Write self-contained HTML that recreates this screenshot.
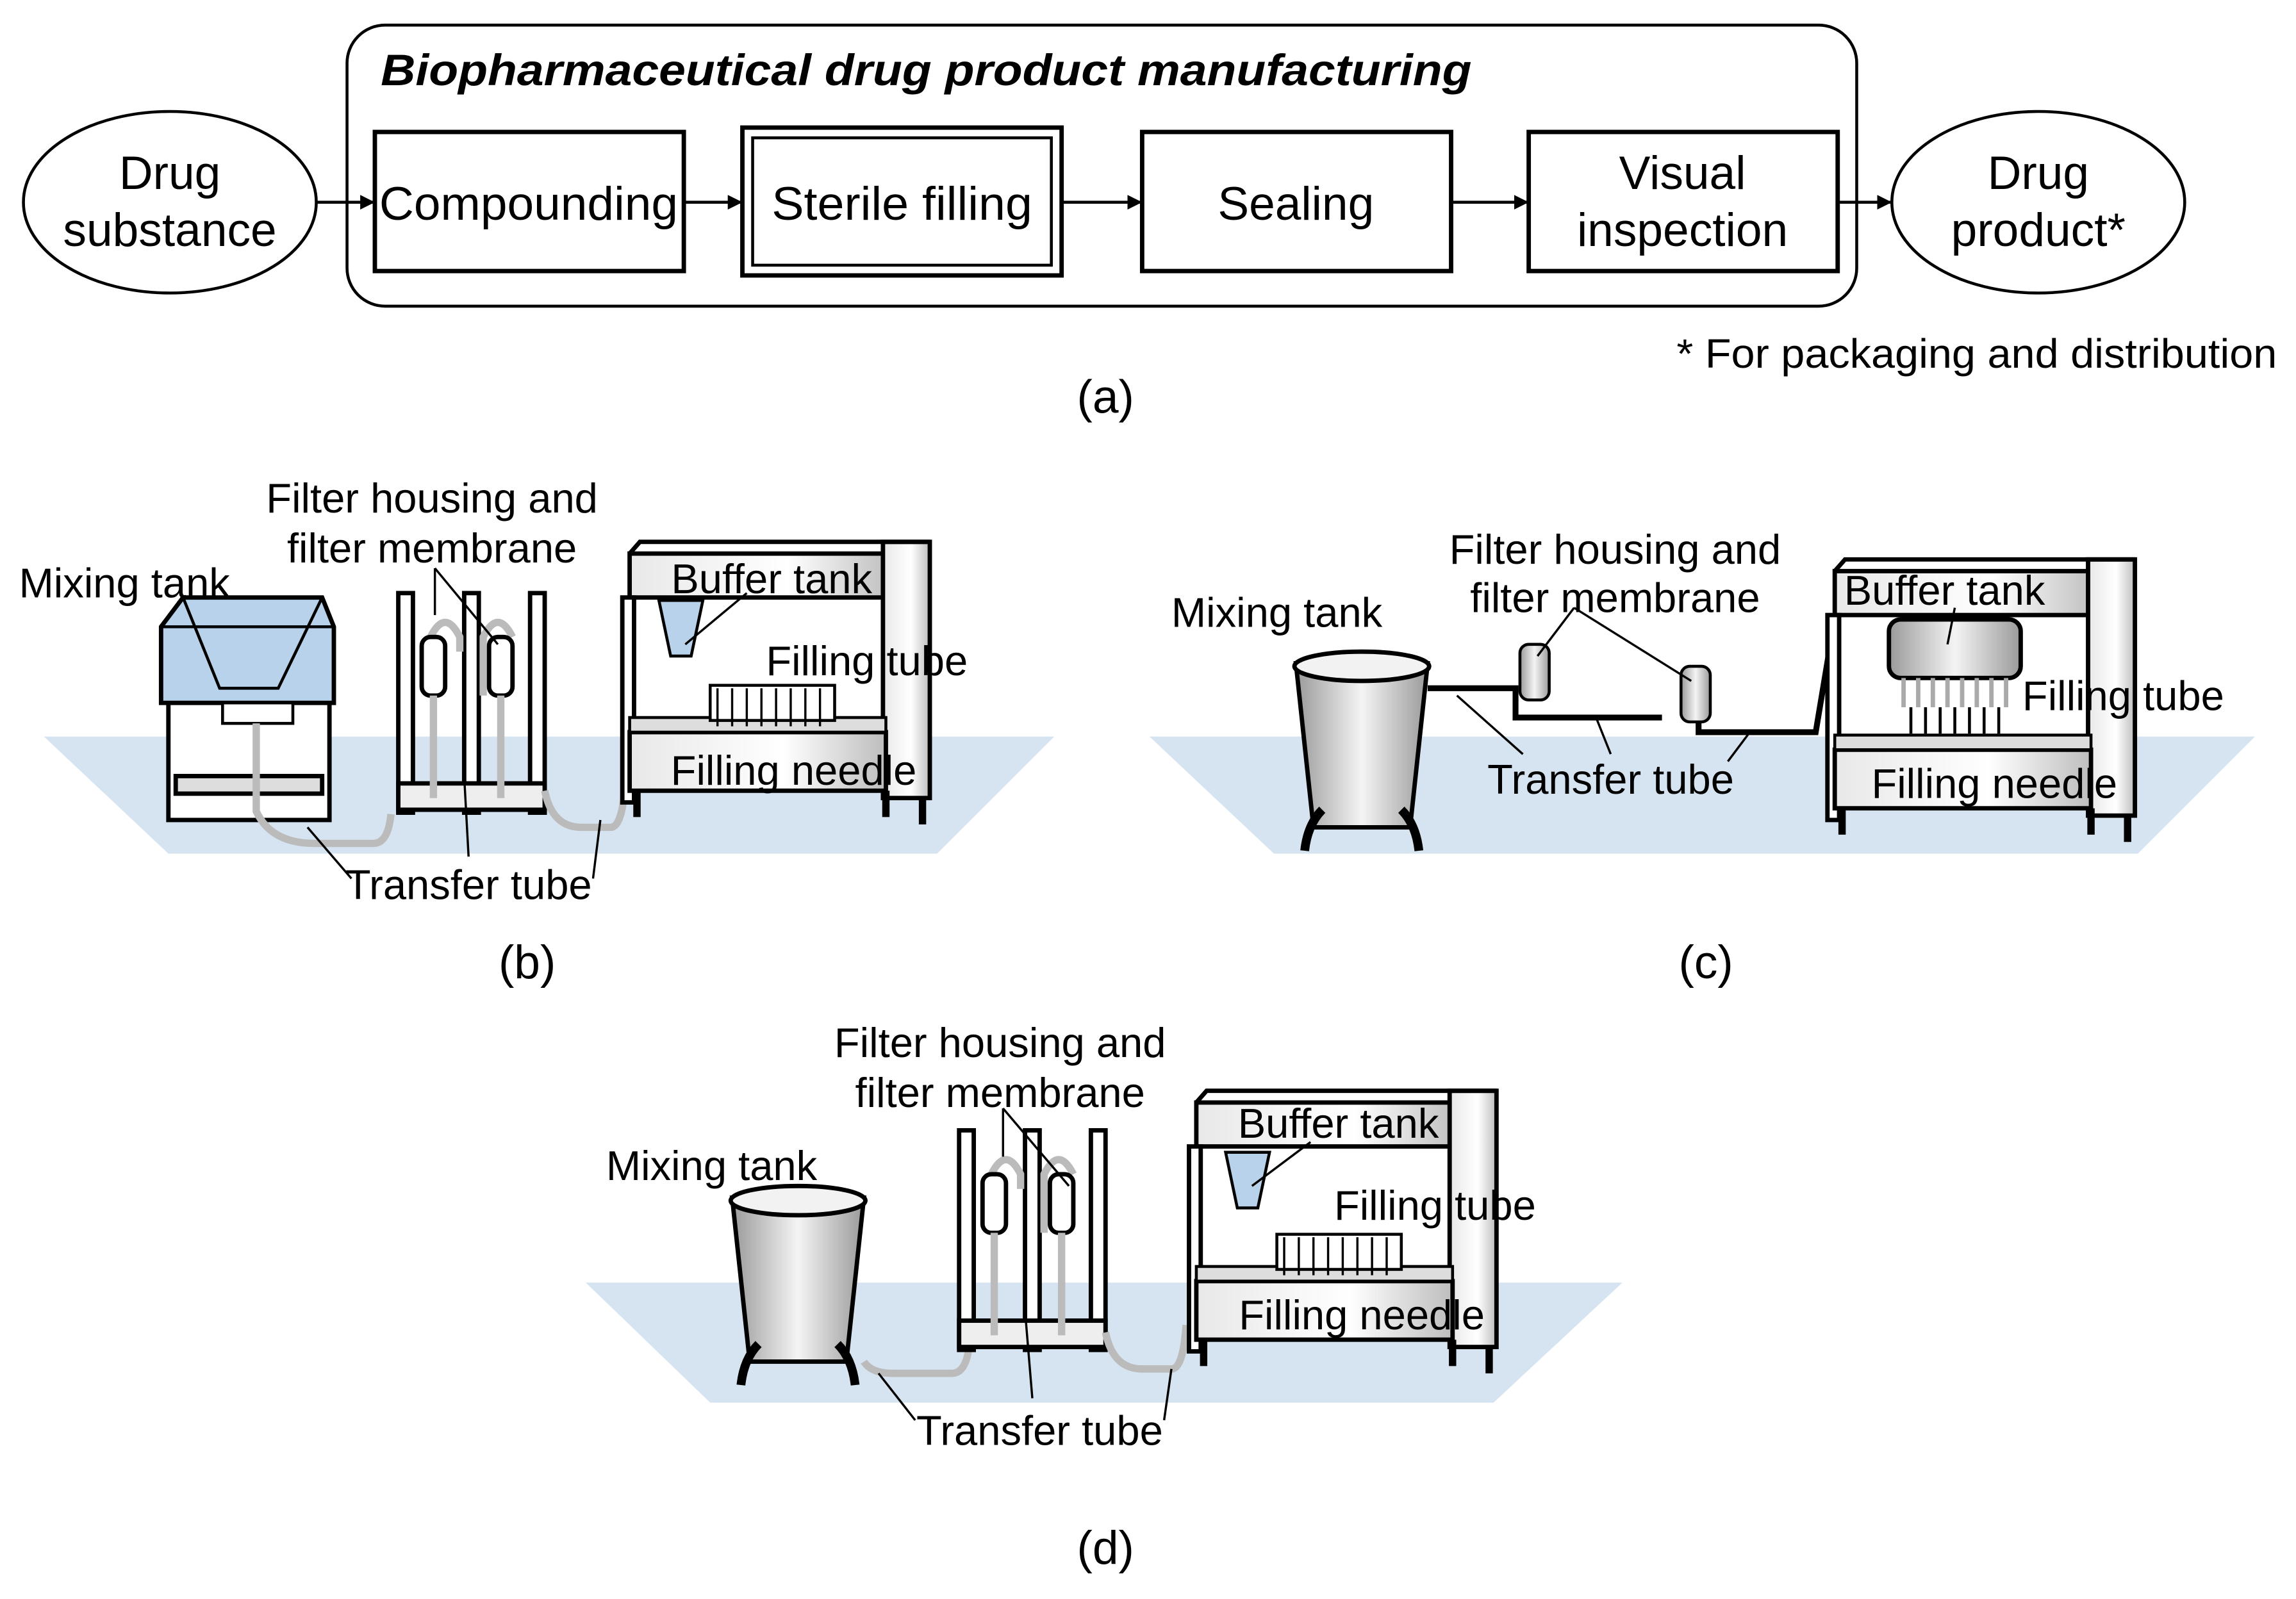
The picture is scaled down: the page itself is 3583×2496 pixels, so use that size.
<!DOCTYPE html>
<html><head><meta charset="utf-8"><style>
html,body{margin:0;padding:0;background:#fff;}
svg{display:block;}
text{font-family:"Liberation Sans",Arial,sans-serif;fill:#000;}
</style></head><body>
<svg width="3583" height="2496" viewBox="0 0 1568 1092" xmlns="http://www.w3.org/2000/svg">
<defs>
<marker id="ah" markerWidth="10" markerHeight="10" refX="9" refY="5" orient="auto" markerUnits="userSpaceOnUse"><path d="M0,0 L10,5 L0,10 z" fill="#000"/></marker>
<linearGradient id="mg" x1="0" x2="1"><stop offset="0" stop-color="#9a9a9a"/><stop offset="0.5" stop-color="#f4f4f4"/><stop offset="1" stop-color="#9a9a9a"/></linearGradient>
<linearGradient id="bg" x1="0" x2="1"><stop offset="0" stop-color="#e8e8e8"/><stop offset="0.6" stop-color="#ffffff"/><stop offset="1" stop-color="#bdbdbd"/></linearGradient>
<g id="rack">
 <rect x="0" y="0" width="10" height="150" fill="#fff" stroke="#000" stroke-width="3"/>
 <rect x="45" y="0" width="10" height="150" fill="#fff" stroke="#000" stroke-width="3"/>
 <rect x="90" y="0" width="10" height="150" fill="#fff" stroke="#000" stroke-width="3"/>
 <rect x="0" y="130" width="100" height="18" fill="#eee" stroke="#000" stroke-width="3"/>
 <path d="M22,70 v-40 q10,-20 20,0 v10 M58,70 v-40 q10,-20 20,0" fill="none" stroke="#bbb" stroke-width="5"/>
 <rect x="16" y="30" width="16" height="40" rx="6" fill="#fff" stroke="#000" stroke-width="3"/>
 <rect x="62" y="30" width="16" height="40" rx="6" fill="#fff" stroke="#000" stroke-width="3"/>
 <path d="M24,70 v70 M70,70 v70" stroke="#bbb" stroke-width="5"/>
</g>
<g id="filler">
 <rect x="5" y="8" width="180" height="30" fill="url(#bg)" stroke="#000" stroke-width="3"/>
 <rect x="178" y="0" width="32" height="175" fill="url(#bg)" stroke="#000" stroke-width="3"/>
 <path d="M5,8 L12,0 L210,0" fill="none" stroke="#000" stroke-width="3"/>
 <rect x="0" y="38" width="8" height="140" fill="#fff" stroke="#000" stroke-width="3"/>
 <rect x="5" y="130" width="175" height="40" fill="url(#bg)" stroke="#000" stroke-width="3"/>
 <rect x="5" y="120" width="175" height="10" fill="#ddd" stroke="#000" stroke-width="2"/>
 <path d="M10,170 v18 M180,170 v18 M205,175 v18" stroke="#000" stroke-width="5"/>
</g>
<g id="bucket">
 <path d="M0,8 L90,8 L78,120 L12,120 Z" fill="url(#mg)" stroke="#000" stroke-width="3"/>
 <ellipse cx="45" cy="10" rx="46" ry="10" fill="#f2f2f2" stroke="#000" stroke-width="3"/>
 <path d="M18,108 q-10,10 -12,28 M72,108 q10,10 12,28" fill="none" stroke="#000" stroke-width="6"/>
</g>
</defs>

<!-- (a) -->
<rect x="237" y="17" width="1031" height="192" rx="26" fill="none" stroke="#000" stroke-width="2"/>
<text x="260" y="58" font-size="30" font-weight="bold" font-style="italic" textLength="745" lengthAdjust="spacingAndGlyphs">Biopharmaceutical drug product manufacturing</text>
<ellipse cx="116" cy="138" rx="100" ry="62" fill="none" stroke="#000" stroke-width="2"/>
<text x="116" y="129" font-size="32" text-anchor="middle">Drug</text>
<text x="116" y="168" font-size="32" text-anchor="middle">substance</text>
<rect x="256" y="90" width="211" height="95" fill="none" stroke="#000" stroke-width="3"/>
<text x="361" y="150" font-size="32" text-anchor="middle" textLength="204" lengthAdjust="spacingAndGlyphs">Compounding</text>
<rect x="507" y="87" width="218" height="101" fill="none" stroke="#000" stroke-width="3"/>
<rect x="514" y="94" width="204" height="87" fill="none" stroke="#000" stroke-width="2"/>
<text x="616" y="150" font-size="32" text-anchor="middle" textLength="178" lengthAdjust="spacingAndGlyphs">Sterile filling</text>
<rect x="780" y="90" width="211" height="95" fill="none" stroke="#000" stroke-width="3"/>
<text x="885" y="150" font-size="32" text-anchor="middle">Sealing</text>
<rect x="1044" y="90" width="211" height="95" fill="none" stroke="#000" stroke-width="3"/>
<text x="1149" y="129" font-size="32" text-anchor="middle">Visual</text>
<text x="1149" y="168" font-size="32" text-anchor="middle">inspection</text>
<ellipse cx="1392" cy="138" rx="100" ry="62" fill="none" stroke="#000" stroke-width="2"/>
<text x="1392" y="129" font-size="32" text-anchor="middle">Drug</text>
<text x="1392" y="168" font-size="32" text-anchor="middle">product*</text>
<g stroke="#000" stroke-width="2" marker-end="url(#ah)">
<line x1="216" y1="138" x2="255" y2="138"/>
<line x1="467" y1="138" x2="506" y2="138"/>
<line x1="725" y1="138" x2="779" y2="138"/>
<line x1="991" y1="138" x2="1043" y2="138"/>
<line x1="1255" y1="138" x2="1291" y2="138"/>
</g>
<text x="1145" y="251" font-size="28" textLength="410" lengthAdjust="spacingAndGlyphs">* For packaging and distribution</text>
<text x="755" y="282" font-size="32" text-anchor="middle">(a)</text>

<!-- (b) -->
<polygon points="30,503 720,503 640,583 115,583" fill="#d6e4f1"/>
<rect x="115" y="440" width="110" height="120" fill="#fff" stroke="#000" stroke-width="3"/>
<path d="M110,428 L125,408 L220,408 L228,428 L228,480 L110,480 Z" fill="#b7d2ea" stroke="#000" stroke-width="3"/>
<path d="M125,408 L150,470 L190,470 L220,408 M110,428 L228,428" fill="none" stroke="#000" stroke-width="2"/>
<rect x="152" y="480" width="48" height="14" fill="#fff" stroke="#000" stroke-width="2"/>
<rect x="120" y="530" width="100" height="12" fill="#ddd" stroke="#000" stroke-width="3"/>
<path d="M175,494 v60 q10,22 40,22 h40 q10,0 12,-20" fill="none" stroke="#bbb" stroke-width="5"/>
<use href="#rack" x="272" y="405"/>
<path d="M372,540 q5,25 25,25 h20 q8,0 10,-30" fill="none" stroke="#bbb" stroke-width="5"/>
<use href="#filler" x="425" y="370"/>
<path d="M450,410 h30 l-8,38 h-14 z" fill="#b7d2ea" stroke="#000" stroke-width="2"/>
<rect x="485" y="468" width="85" height="24" fill="#fff" stroke="#000" stroke-width="2"/>
<path d="M490,470 v26 M500,470 v26 M510,470 v26 M520,470 v26 M530,470 v26 M540,470 v26 M550,470 v26 M560,470 v26" stroke="#000" stroke-width="1.5"/>
<g stroke="#000" stroke-width="1.5">
<line x1="297" y1="388" x2="297" y2="420"/><line x1="297" y1="388" x2="340" y2="440"/>
<line x1="210" y1="565" x2="240" y2="600"/><line x1="317" y1="530" x2="320" y2="585"/><line x1="410" y1="560" x2="405" y2="600"/>
<line x1="510" y1="405" x2="468" y2="440"/>
</g>
<text x="295" y="350" font-size="28.5" text-anchor="middle">Filter housing and</text>
<text x="295" y="384" font-size="28.5" text-anchor="middle">filter membrane</text>
<text x="85" y="408" font-size="28.5" text-anchor="middle">Mixing tank</text>
<text x="527" y="405" font-size="28.5" text-anchor="middle">Buffer tank</text>
<text x="592" y="461" font-size="28.5" text-anchor="middle">Filling tube</text>
<text x="542" y="536" font-size="28.5" text-anchor="middle">Filling needle</text>
<text x="320" y="614" font-size="28.5" text-anchor="middle">Transfer tube</text>
<text x="360" y="668" font-size="32" text-anchor="middle">(b)</text>

<!-- (c) -->
<polygon points="785,503 1540,503 1460,583 870,583" fill="#d6e4f1"/>
<use href="#bucket" x="885" y="445"/>
<path d="M975,470 h60 v20 h20 h80 M1160,485 v15 h80 l10,-60" fill="none" stroke="#000" stroke-width="4"/>
<rect x="1038" y="440" width="20" height="38" rx="6" fill="url(#mg)" stroke="#000" stroke-width="2"/>
<rect x="1148" y="455" width="20" height="38" rx="6" fill="url(#mg)" stroke="#000" stroke-width="2"/>
<use href="#filler" x="1248" y="382"/>
<rect x="1290" y="423" width="90" height="40" rx="8" fill="url(#mg)" stroke="#000" stroke-width="3"/>
<path d="M1300,463 v20 M1310,463 v20 M1320,463 v20 M1330,463 v20 M1340,463 v20 M1350,463 v20 M1360,463 v20 M1370,463 v20" stroke="#aaa" stroke-width="3"/>
<path d="M1305,483 v18 M1315,483 v18 M1325,483 v18 M1335,483 v18 M1345,483 v18 M1355,483 v18 M1365,483 v18" stroke="#000" stroke-width="2"/>
<g stroke="#000" stroke-width="1.5">
<line x1="1075" y1="415" x2="1050" y2="448"/><line x1="1075" y1="415" x2="1155" y2="465"/>
<line x1="1040" y1="515" x2="995" y2="475"/><line x1="1100" y1="515" x2="1090" y2="490"/><line x1="1180" y1="520" x2="1195" y2="500"/>
<line x1="1335" y1="415" x2="1330" y2="440"/>
</g>
<text x="1103" y="385" font-size="28.5" text-anchor="middle">Filter housing and</text>
<text x="1103" y="418" font-size="28.5" text-anchor="middle">filter membrane</text>
<text x="872" y="428" font-size="28.5" text-anchor="middle">Mixing tank</text>
<text x="1328" y="413" font-size="28.5" text-anchor="middle">Buffer tank</text>
<text x="1450" y="485" font-size="28.5" text-anchor="middle">Filling tube</text>
<text x="1362" y="545" font-size="28.5" text-anchor="middle">Filling needle</text>
<text x="1100" y="542" font-size="28.5" text-anchor="middle">Transfer tube</text>
<text x="1165" y="668" font-size="32" text-anchor="middle">(c)</text>

<!-- (d) -->
<polygon points="400,876 1108,876 1020,958 485,958" fill="#d6e4f1"/>
<use href="#bucket" x="500" y="810"/>
<path d="M590,930 q5,8 20,8 h40 q10,0 12,-20" fill="none" stroke="#bbb" stroke-width="5"/>
<use href="#rack" x="655" y="772"/>
<path d="M755,910 q5,25 25,25 h20 q8,0 10,-30" fill="none" stroke="#bbb" stroke-width="5"/>
<use href="#filler" x="812" y="745"/>
<path d="M837,787 h30 l-8,38 h-14 z" fill="#b7d2ea" stroke="#000" stroke-width="2"/>
<rect x="872" y="843" width="85" height="24" fill="#fff" stroke="#000" stroke-width="2"/>
<path d="M877,845 v26 M887,845 v26 M897,845 v26 M907,845 v26 M917,845 v26 M927,845 v26 M937,845 v26 M947,845 v26" stroke="#000" stroke-width="1.5"/>
<g stroke="#000" stroke-width="1.5">
<line x1="685" y1="757" x2="685" y2="790"/><line x1="685" y1="757" x2="730" y2="810"/>
<line x1="600" y1="938" x2="625" y2="970"/><line x1="700" y1="895" x2="705" y2="955"/><line x1="800" y1="935" x2="795" y2="970"/>
<line x1="895" y1="780" x2="855" y2="810"/>
</g>
<text x="683" y="722" font-size="28.5" text-anchor="middle">Filter housing and</text>
<text x="683" y="756" font-size="28.5" text-anchor="middle">filter membrane</text>
<text x="486" y="806" font-size="28.5" text-anchor="middle">Mixing tank</text>
<text x="914" y="777" font-size="28.5" text-anchor="middle">Buffer tank</text>
<text x="980" y="833" font-size="28.5" text-anchor="middle">Filling tube</text>
<text x="930" y="908" font-size="28.5" text-anchor="middle">Filling needle</text>
<text x="710" y="987" font-size="28.5" text-anchor="middle">Transfer tube</text>
<text x="755" y="1068" font-size="32" text-anchor="middle">(d)</text>
</svg>
</body></html>
